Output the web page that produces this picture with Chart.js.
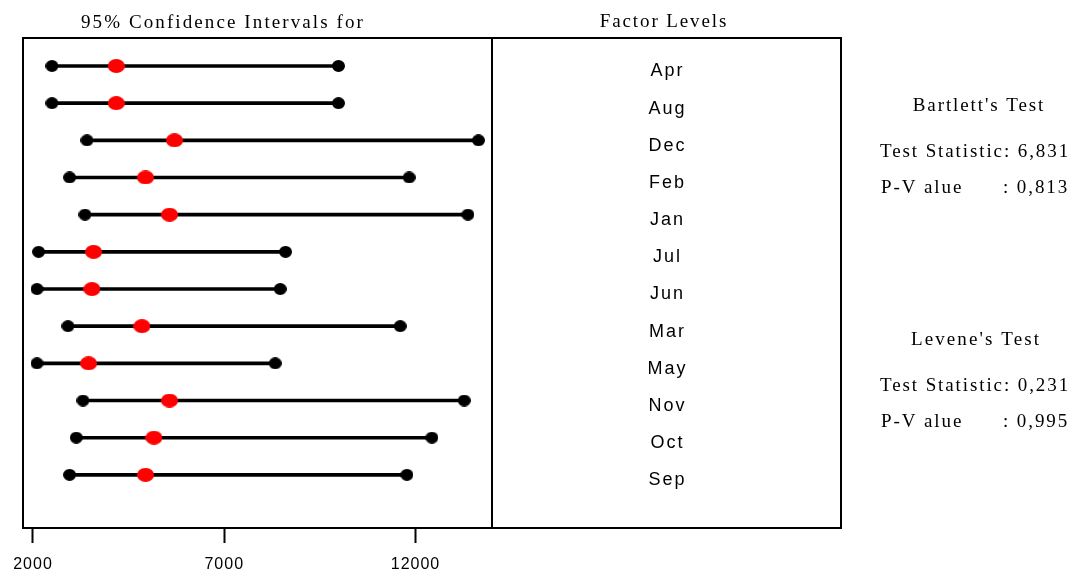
<!DOCTYPE html>
<html>
<head>
<meta charset="utf-8">
<script src="https://cdn.jsdelivr.net/npm/chart.js@4"></script>
<style>
  html, body { margin: 0; padding: 0; background: #fff; }
  #wrap { width: 1071px; height: 571px; }
</style>
</head>
<body>
<div id="wrap"><canvas id="c" width="1071" height="571"></canvas></div>
<script>
// Factor levels and 95% Bonferroni intervals for sigma (one row per month)
const months = ['Apr', 'Aug', 'Dec', 'Feb', 'Jan', 'Jul', 'Jun', 'Mar', 'May', 'Nov', 'Oct', 'Sep'];
const lowerCI = [2497, 2497, 3411, 2957, 3359, 2146, 2105, 2915, 2105, 3307, 3132, 2957];
const sigmaEst = [4177, 4177, 5701, 4943, 5570, 3584, 3542, 4849, 3453, 5570, 5163, 4943];
const upperCI = [9987, 9987, 13646, 11835, 13370, 8602, 8463, 11600, 8333, 13273, 12429, 11775];
const xTicks = [2000, 7000, 12000];

// Test results shown at the right
const bartlettStats = ['6,831', '0,813'];
const leveneStats = ['0,231', '0,995'];

const SERIF = '"Liberation Serif", "Times New Roman", serif';
const SANS = '"Liberation Sans", Arial, sans-serif';
const PANEL_RIGHT = 841;

function ellipseDot(w, h, color) {
  const c = document.createElement('canvas');
  c.width = w; c.height = h;
  const g = c.getContext('2d');
  g.fillStyle = color;
  g.beginPath();
  g.ellipse(w / 2, h / 2, w / 2, h / 2, 0, 0, Math.PI * 2);
  g.fill();
  return c;
}
const blackDot = ellipseDot(13, 12, '#000');
const redDot = ellipseDot(17, 14, '#ff0000');

const datasets = months.map((m, i) => ({
  type: 'line',
  label: m,
  data: [{ x: lowerCI[i], y: i }, { x: upperCI[i], y: i }],
  borderColor: '#000',
  borderWidth: 3.6,
  pointStyle: blackDot,
  pointRadius: 6,
  order: 1
}));
datasets.push({
  type: 'scatter',
  label: 'Sigma',
  data: sigmaEst.map((v, i) => ({ x: v, y: i })),
  pointStyle: redDot,
  pointRadius: 6,
  showLine: false,
  order: 0
});

function text(ctx, str, x, y, font, align, spacing) {
  ctx.save();
  ctx.font = font;
  ctx.letterSpacing = spacing;
  ctx.fillStyle = '#000';
  ctx.textAlign = align;
  ctx.textBaseline = 'middle';
  ctx.fillText(str, x, y);
  ctx.restore();
}

const panelPlugin = {
  id: 'panels',
  afterDraw(chart) {
    const { ctx, chartArea: a, scales } = chart;
    ctx.save();
    ctx.strokeStyle = '#000';
    ctx.lineWidth = 2;
    ctx.strokeRect(a.left, a.top, a.right - a.left, a.bottom - a.top);
    ctx.strokeRect(a.right, a.top, PANEL_RIGHT - a.right, a.bottom - a.top);
    ctx.restore();

    const cx = (a.right + PANEL_RIGHT) / 2;
    months.forEach((m, i) => {
      text(ctx, m, cx + 1, scales.y.getPixelForValue(i) + 5.5, '18px ' + SANS, 'center', '2px');
    });

    const head = '19px ' + SERIF;
    text(ctx, '95% Confidence Intervals for', 223, 23.5, head, 'center', '2.1px');
    text(ctx, 'Factor Levels', 664, 22.5, head, 'center', '1.9px');

    text(ctx, "Bartlett's Test", 979, 106.5, head, 'center', '1.9px');
    text(ctx, 'Test Statistic: ' + bartlettStats[0], 880, 152.5, head, 'left', '1.9px');
    text(ctx, 'P-V alue', 881, 188.5, head, 'left', '1.9px');
    text(ctx, ': ' + bartlettStats[1], 1003, 188.5, head, 'left', '1.9px');

    text(ctx, "Levene's Test", 976, 340.5, head, 'center', '2.1px');
    text(ctx, 'Test Statistic: ' + leveneStats[0], 880, 386.5, head, 'left', '1.9px');
    text(ctx, 'P-V alue', 881, 422.5, head, 'left', '1.9px');
    text(ctx, ': ' + leveneStats[1], 1003, 422.5, head, 'left', '1.9px');
  }
};

const tickSpacing = {
  id: 'tickSpacing',
  beforeDraw(chart) { chart.ctx.letterSpacing = '1px'; },
  afterDraw(chart) { chart.ctx.letterSpacing = '0px'; }
};

new Chart(document.getElementById('c'), {
  data: { datasets },
  options: {
    responsive: false,
    animation: false,
    devicePixelRatio: 1,
    layout: { padding: { left: 23, right: 1071 - 492, top: 38, bottom: 0 } },
    plugins: { legend: { display: false }, tooltip: { enabled: false }, title: { display: false } },
    scales: {
      x: {
        type: 'linear',
        min: 1739,
        max: 14000,
        afterBuildTicks: s => { s.ticks = xTicks.map(v => ({ value: v })); },
        afterFit: s => { s.height = 43; },
        grid: { drawOnChartArea: false, drawTicks: true, tickLength: 15, tickWidth: 2, tickColor: '#000' },
        border: { display: true, color: '#000', width: 2 },
        ticks: {
          color: '#000',
          font: { family: SANS, size: 16 },
          padding: 12,
          maxRotation: 0,
          autoSkip: false,
          callback: v => String(v)
        }
      },
      y: {
        type: 'linear',
        display: false,
        reverse: true,
        min: -0.753,
        max: 12.43
      }
    }
  },
  plugins: [tickSpacing, panelPlugin]
});
</script>
</body>
</html>
